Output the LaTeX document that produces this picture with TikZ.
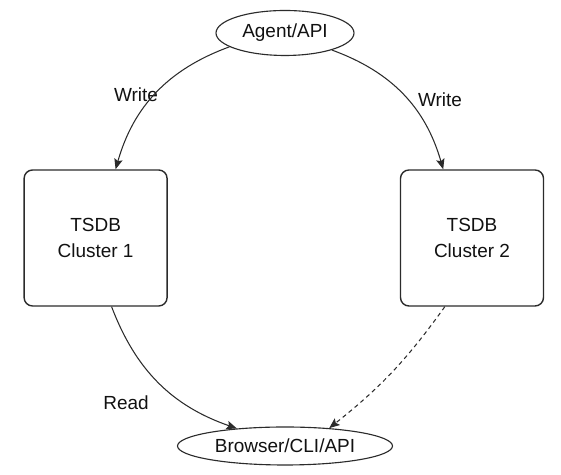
\documentclass[tikz,border=0pt]{standalone}
\usepackage{fontspec}
\setmainfont{Liberation Sans}
\usepackage{xcolor}
\usepackage{tikz}
\usetikzlibrary{shapes.geometric,arrows.meta,positioning}
\definecolor{ink}{HTML}{2B2B2B}
\definecolor{txt}{HTML}{111111}

\begin{document}
\begin{tikzpicture}[font=\fontsize{13.5}{18}\selectfont, text=txt, end/.style={ellipse,draw=ink,line width=0.8pt,inner sep=0pt}, cluster/.style={draw=ink,line width=1pt,rounded corners=6pt,minimum width=3.575cm,minimum height=3.4cm,align=center}, arrow/.style={-{Stealth[length=2.6mm,width=2.1mm,inset=0.5mm]},draw=ink,line width=0.75pt}, lbl/.style={inner sep=1pt}]
    \useasboundingbox (0,0) rectangle (14.025,11.875);
    \node[end,minimum width=3.45cm,minimum height=1.125cm] (agent) at (7.125,11.05) {Agent/API};
    \node[cluster] (c1) at (2.39,5.925) {TSDB\\Cluster 1};
    \node[cluster] (c2) at (11.8,5.925) {TSDB\\Cluster 2};
    \node[end,minimum width=5.375cm,minimum height=0.95cm] (browser) at (7.125,0.725) {Browser/CLI/API};
    \node[lbl] (w1) at (3.4,9.5) {Write};
    \node[lbl] (w2) at (11.0,9.375) {Write};
    \node[lbl] (rd) at (3.15,1.8) {Read};
    \draw[arrow] (agent.194) to[bend right=27] ([xshift=0.5cm]c1.north);
    \draw[arrow] (agent.340) to[bend left=27] ([xshift=-0.72cm]c2.north);
    \draw[arrow] ([xshift=0.4cm]c1.south) to[bend right=25] (browser.160);
    \draw[arrow,dash pattern=on 3pt off 2.5pt] ([xshift=-0.68cm]c2.south) to[bend left=8] (browser.22);
  \end{tikzpicture}
\end{document}
